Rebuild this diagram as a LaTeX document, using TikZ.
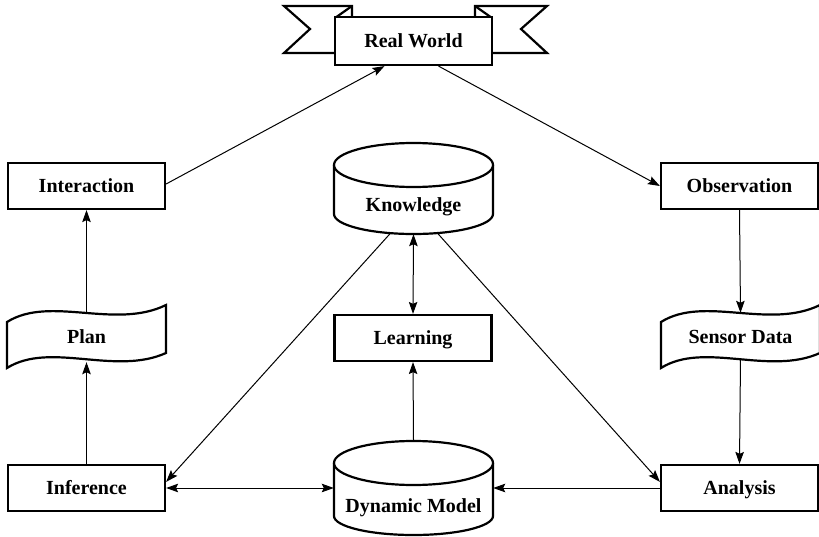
\documentclass[tikz,border=0pt]{standalone}
\usepackage{fontspec}
\setmainfont{Liberation Serif}
\usetikzlibrary{arrows.meta,calc}
\begin{document}
\begin{tikzpicture}[x=1pt,y=-1pt,
  box/.style={draw,line width=2.2pt,fill=white,minimum width=157pt,minimum height=46pt,inner sep=0pt,text height=14pt,text depth=1pt},
  lbl/.style={font=\fontsize{20}{23}\selectfont\bfseries},
  hull/.style={inner sep=0pt,minimum width=159pt},
  conn/.style={line width=1pt,-{Stealth[length=12pt,width=8.5pt,inset=2pt]}},
  conn2/.style={line width=1pt,{Stealth[length=12pt,width=8.5pt,inset=2pt]}-{Stealth[length=12pt,width=8.5pt,inset=2pt]}},
  shp/.style={line width=2.2pt,fill=white,line join=miter}
]
\useasboundingbox (0,0) rectangle (819,537);
% banner tails
\draw[shp] (352,17) -- (352,6) -- (284,6) -- (310,29) -- (284,53) -- (335,53);
\draw[line width=2.2pt] (335,18) -- (352,6);
\draw[shp] (475,17) -- (475,6) -- (547,6) -- (521,29) -- (547,53) -- (492,53);
\draw[line width=2.2pt] (492,18) -- (475,6);
\node[box,lbl,minimum height=48pt] (rw) at (413.5,41) {Real World};
% rectangles
\node[box,lbl] (int) at (86.5,186) {Interaction};
\node[box,lbl] (obs) at (739.5,186) {Observation};
\node[box,lbl] (lrn) at (413,338) {Learning};
\node[box,lbl] (inf) at (86.5,488) {Inference};
\node[box,lbl] (ana) at (739.5,488) {Analysis};
% wave shapes
\draw[shp] (7,322) .. controls (50,295) and (115,330) .. (166,305) -- (166,353) .. controls (115,376) and (50,341) .. (7,368) -- cycle;
\node[lbl,inner sep=0pt,minimum width=159pt,minimum height=48pt,text height=14pt,text depth=1pt] (plan) at (86.5,337) {Plan};
\draw[shp] (661,322) .. controls (704,295) and (769,330) .. (820,305) -- (820,353) .. controls (769,376) and (704,341) .. (661,368) -- cycle;
\node[lbl,inner sep=0pt,minimum width=159pt,minimum height=48pt,text height=14pt,text depth=1pt] (sen) at (740.5,337) {Sensor Data};
% cylinders
\draw[shp] (334,165) -- (334,214) arc[start angle=180,end angle=360,x radius=79.5,y radius=-20] -- (493,165);
\draw[shp] (413.5,165) ellipse[x radius=79.5,y radius=22];
\node[hull,minimum height=91pt] (kn) at (413.5,188.5) {};
\node[lbl] at (413.5,207) {Knowledge};
\draw[shp] (334,463) -- (334,516) arc[start angle=180,end angle=360,x radius=79.5,y radius=-19] -- (493,463);
\draw[shp] (413.5,463) ellipse[x radius=79.5,y radius=22];
\node[hull,minimum height=95pt] (dm) at (413.5,488) {};
\node[lbl] at (413.5,508) {Dynamic Model};
% connectors
\draw[conn] ($(int.east)+(0,-2)$) -- ($(rw.south)+(-29,0)$);
\draw[conn] ($(rw.south)+(25,0)$) -- (obs.west);
\draw[conn] (plan.north) -- (int.south);
\draw[conn] (inf.north) -- ($(plan.south)+(0,1)$);
\draw[conn] (obs.south) -- (sen.north);
\draw[conn] ($(sen.south)+(0,-2)$) -- (ana.north);
\draw[conn2] (kn.south) -- (lrn.north);
\draw[conn] (dm.north) -- (lrn.south);
\draw[conn] ($(kn.south)+(-23,-1)$) -- ($(inf.north east)+(0,18)$);
\draw[conn] ($(kn.south)+(24,-1)$) -- ($(ana.north west)+(0,18)$);
\draw[conn2] (inf.east) -- (dm.west);
\draw[conn] (ana.west) -- (dm.east);
\end{tikzpicture}
\end{document}
